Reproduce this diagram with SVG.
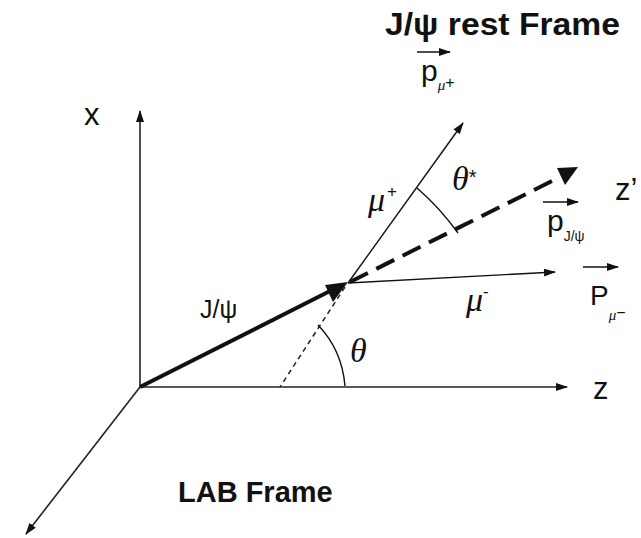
<svg xmlns="http://www.w3.org/2000/svg" width="641" height="538" viewBox="0 0 641 538">
<style>
.ax{stroke:#222;stroke-width:1.6;fill:none}
.th{stroke:#111;stroke-width:1.4;fill:none}
.sans{font-family:"Liberation Sans",Arial,sans-serif;fill:#111}
.bold{font-family:"Liberation Sans",Arial,sans-serif;font-weight:bold;fill:#111}
.gr{font-family:"Liberation Serif","Times New Roman",serif;font-style:italic;fill:#111}
</style>
<defs>
<marker id="ah" markerUnits="userSpaceOnUse" markerWidth="12" markerHeight="10" refX="11" refY="4" orient="auto">
<path d="M0,0 L12,4 L0,8 z" fill="#111"/>
</marker>
</defs>
<rect width="641" height="538" fill="#fff"/>
<g id="axes">
<line class="ax" x1="140" y1="387" x2="140" y2="111" marker-end="url(#ah)"/>
<line class="ax" x1="140" y1="387" x2="567" y2="387" marker-end="url(#ah)"/>
<line class="ax" x1="140" y1="387" x2="26" y2="534" marker-end="url(#ah)"/>
</g>
<g id="connectors">
<line x1="140" y1="387" x2="330" y2="291" stroke="#111" stroke-width="4"/>
<polygon points="325,285 348,282 333,302" fill="#111"/>
<line x1="345" y1="287" x2="280" y2="387" stroke="#222" stroke-width="1.5" stroke-dasharray="5,4"/>
<line class="th" x1="348" y1="283" x2="463" y2="123" marker-end="url(#ah)"/>
<line class="th" x1="348" y1="283" x2="555" y2="272" marker-end="url(#ah)"/>
<line x1="350" y1="282" x2="552" y2="181" stroke="#111" stroke-width="4" stroke-dasharray="20,9.4"/>
<polygon points="557,168 578,167 565,185" fill="#111"/>
<path class="th" d="M318,325 Q342,350 345,386"/>
<path class="th" d="M417,188 Q440,208 458,233"/>
<line class="th" x1="543" y1="202" x2="578" y2="202" marker-end="url(#ah)"/>
<line class="th" x1="417" y1="52" x2="450" y2="52" marker-end="url(#ah)"/>
<line class="th" x1="583" y1="267" x2="618" y2="267" marker-end="url(#ah)"/>
</g>
<g id="labels">
<text class="bold" x="385" y="35" font-size="31" textLength="235" lengthAdjust="spacingAndGlyphs">J/ψ rest Frame</text>
<text class="bold" x="178" y="502" font-size="29">LAB Frame</text>
<text class="sans" x="84" y="125" font-size="31">x</text>
<text class="sans" x="593" y="399" font-size="31">z</text>
<text class="sans" x="615" y="200" font-size="31">z’</text>
<text class="sans" x="200" y="318" font-size="25">J/ψ</text>
<text x="368" y="211"><tspan class="gr" font-size="34">μ</tspan><tspan class="sans" font-size="17" dx="2" dy="-14">+</tspan></text>
<text x="452" y="190"><tspan class="gr" font-size="34">θ</tspan><tspan class="sans" font-size="20" dy="-6">*</tspan></text>
<text class="gr" x="350" y="362" font-size="34">θ</text>
<text x="466" y="311"><tspan class="gr" font-size="34">μ</tspan><tspan class="sans" font-size="17" dy="-14">-</tspan></text>
<text x="421" y="81"><tspan class="sans" font-size="30">p</tspan><tspan class="gr" font-size="15" dy="9">μ</tspan><tspan class="sans" font-size="16" dy="-2">+</tspan></text>
<text x="547" y="231"><tspan class="sans" font-size="30">p</tspan><tspan class="sans" font-size="14" dy="10">J/ψ</tspan></text>
<text x="590" y="305"><tspan class="sans" font-size="28">P</tspan><tspan class="gr" font-size="15" dy="15">μ</tspan><tspan class="sans" font-size="16" dy="-2">−</tspan></text>
</g>
</svg>
